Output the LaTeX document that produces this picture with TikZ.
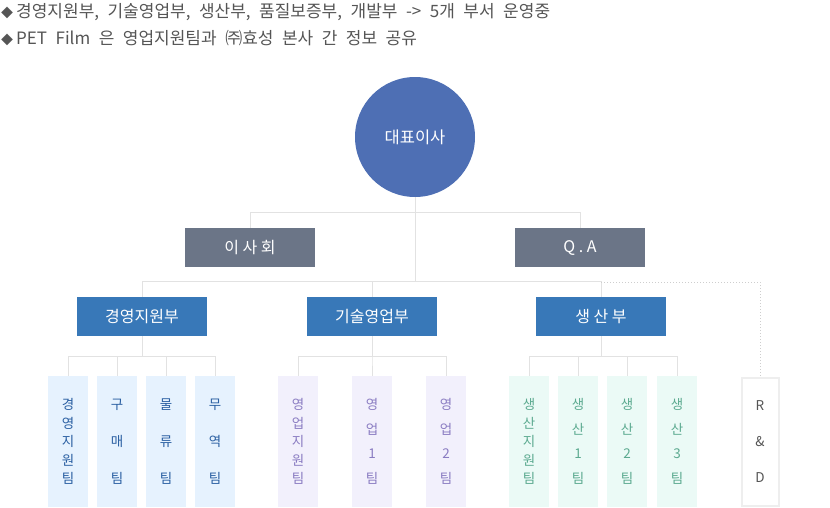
\documentclass[tikz,border=0pt]{standalone}
\usepackage{fontspec}
\setmainfont{Noto Sans CJK KR}
\definecolor{ceoblue}{HTML}{4E6FB4}
\definecolor{boardgray}{HTML}{6B7587}
\definecolor{deptblue}{HTML}{3878B8}
\definecolor{linegray}{HTML}{E2E2E2}
\definecolor{headgray}{HTML}{555555}
\definecolor{bluefill}{HTML}{E6F2FE}
\definecolor{bluetext}{HTML}{2A5FA2}
\definecolor{lavfill}{HTML}{F2F0FC}
\definecolor{lavtext}{HTML}{8A7CC2}
\definecolor{mintfill}{HTML}{EBFAF6}
\definecolor{minttext}{HTML}{5CAA90}
\newcommand\headfont{\fontsize{17}{20}\selectfont\setlength\spaceskip{8.5pt}}
\newcommand\notemark{{\fontsize{12}{12}\selectfont ◆}\kern3pt}
\begin{document}
\begin{tikzpicture}[x=1pt, y=-1pt,
  link/.style={draw=linegray, line width=1pt},
  dotlink/.style={draw=linegray!80!gray, line width=1pt, dotted},
  headline/.style={anchor=west, text=headgray, inner sep=0, font=\headfont},
  graybox/.style={fill=boardgray, text=white, minimum width=130, minimum height=39, inner sep=0, font=\fontsize{16}{18}\selectfont},
  deptbox/.style={fill=deptblue, text=white, minimum width=130, minimum height=39, inner sep=0, font=\fontsize{16}{18}\selectfont},
  teambox/.style={minimum width=40, minimum height=131, inner sep=0, align=center},
  spread/.style={font=\fontsize{13.5}{#1}\selectfont},
  blueteam/.style={teambox, fill=bluefill, text=bluetext, font=\bfseries},
  lavteam/.style={teambox, fill=lavfill, text=lavtext},
  mintteam/.style={teambox, fill=mintfill, text=minttext}
]
\useasboundingbox (0,0) rectangle (830,507);
\node[headline] (note1) at (1,12) {\notemark 경영지원부, 기술영업부, 생산부, 품질보증부, 개발부 -> 5개 부서 운영중};
\node[headline] (note2) at (1,38) {\notemark PET Film 은 영업지원팀과 ㈜효성 본사 간 정보 공유};

\node[circle, fill=ceoblue, text=white, minimum size=120, inner sep=0, font=\fontsize{16.5}{18}\selectfont] (ceo) at (415,137) {대표이사};
\node[graybox] (board) at (250,247.5) {이 사 회};
\node[graybox] (qa) at (580,247.5) {Q . A};
\coordinate (hub) at (415,282);

\node[deptbox] (mgmt) at (142,316.5) {경영지원부};
\node[deptbox] (sales) at (372,316.5) {기술영업부};
\node[deptbox] (prod) at (601,316.5) {생 산 부};

\node[blueteam, spread=18.5] (mgmtsup) at (68,441.5) {경\\영\\지\\원\\팀};
\node[blueteam, spread=37] (buy) at (117,441.5) {구\\매\\팀};
\node[blueteam, spread=37] (logi) at (166,441.5) {물\\류\\팀};
\node[blueteam, spread=37] (trade) at (215,441.5) {무\\역\\팀};

\node[lavteam, spread=18.5] (salessup) at (298,441.5) {영\\업\\지\\원\\팀};
\node[lavteam, spread=24.5] (sales1) at (372,441.5) {영\\업\\1\\팀};
\node[lavteam, spread=24.5] (sales2) at (446,441.5) {영\\업\\2\\팀};

\node[mintteam, spread=18.5] (prodsup) at (529,441.5) {생\\산\\지\\원\\팀};
\node[mintteam, spread=24.5] (prod1) at (578,441.5) {생\\산\\1\\팀};
\node[mintteam, spread=24.5] (prod2) at (627,441.5) {생\\산\\2\\팀};
\node[mintteam, spread=24.5] (prod3) at (677,441.5) {생\\산\\3\\팀};

\node[draw=linegray!60, line width=2pt, fill=white, text=headgray, minimum width=37, minimum height=128, inner sep=0, align=center, spread=36] (rnd) at (760,441.5) {R\\\&\\D};

\draw[link] (ceo.south) -- (hub);
\draw[link] (board.north) -- ++(0,-15) -| (qa.north);
\draw[link] (mgmt.north) -- ++(0,-15) -| (prod.north);
\draw[link] (sales.north) -- (sales.north |- hub);
\draw[dotlink] (prod.north |- hub) -| (rnd.north);
\foreach \t in {mgmtsup,buy,logi,trade}
  \draw[link] (mgmt.south) -- ++(0,20) -| (\t.north);
\foreach \t in {salessup,sales1,sales2}
  \draw[link] (sales.south) -- ++(0,20) -| (\t.north);
\foreach \t in {prodsup,prod1,prod2,prod3}
  \draw[link] (prod.south) -- ++(0,20) -| (\t.north);
\end{tikzpicture}
\end{document}
